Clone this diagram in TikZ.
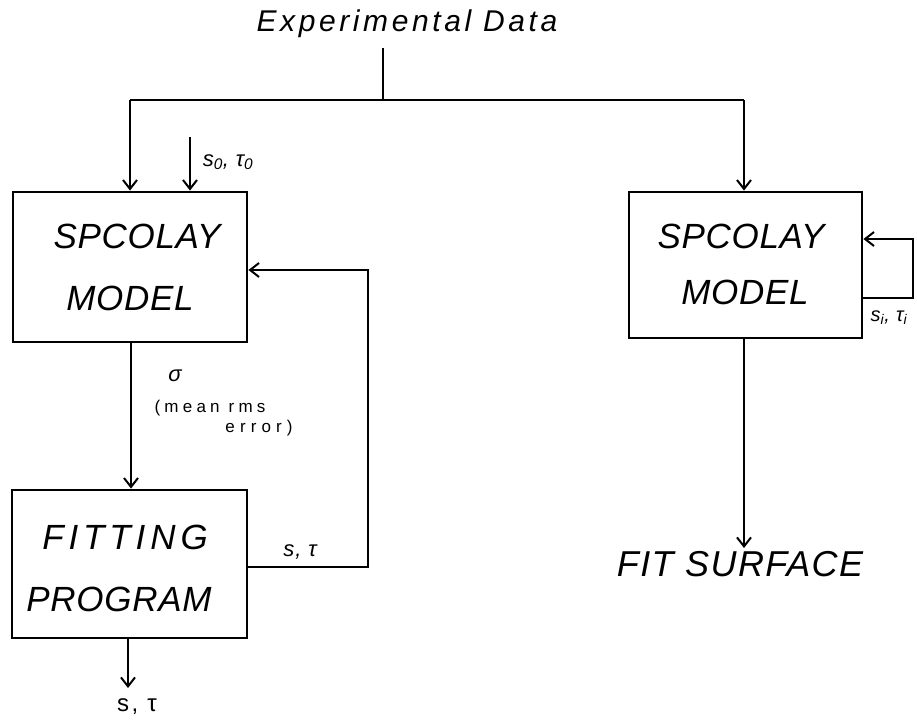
\documentclass[tikz,border=0pt]{standalone}
\usepackage{fontspec}
\usetikzlibrary{arrows.meta}
\newfontfamily\hand{Liberation Sans}[LetterSpace=2]
\newfontfamily\handsm{Liberation Sans}[LetterSpace=4]
\begin{document}
\begin{tikzpicture}[x=1pt,y=-1pt,
  ln/.style={line width=2.6pt},
  arr/.style={ln,-{Straight Barb[length=9pt,width=14pt,line width=2pt]}},
  blk/.style={draw,line width=2.8pt,minimum width=#1,inner sep=0pt,align=center},
  big/.style={font=\hand\itshape\fontsize{35}{40}\selectfont,inner sep=0pt},
  lab/.style={font=\handsm\itshape\fontsize{22}{22}\selectfont,inner sep=0pt},
  small/.style={font=\handsm\fontsize{17}{17}\selectfont\addfontfeature{LetterSpace=25},inner sep=0pt}]
\useasboundingbox (0,0) rectangle (917,723);
% boxes
\node[blk=234pt,minimum height=150pt] (m1) at (130,267) {};
\node[big] (m1a) at (137,236) {SPCOLAY};
\node[big] (m1b) at (130,298) {MODEL};
\node[blk=235pt,minimum height=148pt] (fp) at (129.5,564) {};
\node[big,font=\hand\itshape\fontsize{35}{40}\selectfont\addfontfeature{LetterSpace=14}] (fpa) at (125,537) {FITTING};
\node[big] (fpb) at (119,599) {PROGRAM};
\node[blk=233pt,minimum height=146pt] (m2) at (745.5,265) {};
\node[big] (m2a) at (741,236) {SPCOLAY};
\node[big] (m2b) at (745,292) {MODEL};
% texts
\node[font=\handsm\itshape\fontsize{30}{30}\selectfont\addfontfeature{LetterSpace=12},inner sep=0pt] (ed) at (407,24) {Experimental Data};
\node[big,font=\hand\itshape\fontsize{36}{40}\selectfont\addfontfeature{LetterSpace=4}] (fs) at (740,564) {FIT SURFACE};
\node[lab] (s0) at (228,162) {s\textsubscript{0}, τ\textsubscript{0}};
\node[lab] (sig) at (175,376) {σ};
\node[small] (err1) at (210,408) {(mean rms};
\node[small,font=\handsm\fontsize{17}{17}\selectfont\addfontfeature{LetterSpace=30}] (err2) at (259,428) {error)};
\node[lab] (st) at (300,552) {s, τ};
\node[lab,font=\handsm\itshape\fontsize{20}{20}\selectfont] (si) at (889,318) {s\textsubscript{i}, τ\textsubscript{i}};
\node[lab,font=\handsm\fontsize{24}{24}\selectfont\addfontfeature{LetterSpace=10}] (out) at (137,707) {s, τ};
% coordinates
\coordinate (jn) at (383,100);
\coordinate (hl) at (130,100);
\coordinate (hr) at (744,100);
\coordinate (s0s) at (190,137);
\coordinate (fb1) at (368,567);
\coordinate (fb2) at (368,270);
\coordinate (lp1) at (913,298);
\coordinate (lp2) at (913,239);
\coordinate (fsa) at (744,548);
\coordinate (outa) at (128,688);
% connectors
\draw[ln] (383,48) -- (jn);
\draw[ln] (hl) -- (hr);
\draw[arr] (hl) -- (hl |- m1.north);
\draw[arr] (hr) -- (hr |- m2.north);
\draw[arr] (s0s) -- (s0s |- m1.north);
\draw[arr] (131,0 |- m1.south) -- (131,0 |- fp.north);
\draw[arr] (fb1 -| fp.east) -- (fb1) -- (fb2) -- (fb2 -| m1.east);
\draw[arr] (lp1 -| m2.east) -- (lp1) -- (lp2) -- (lp2 -| m2.east);
\draw[arr,line width=1.8pt] (744,0 |- m2.south) -- (fsa);
\draw[arr] (128,0 |- fp.south) -- (outa);
\end{tikzpicture}
\end{document}
